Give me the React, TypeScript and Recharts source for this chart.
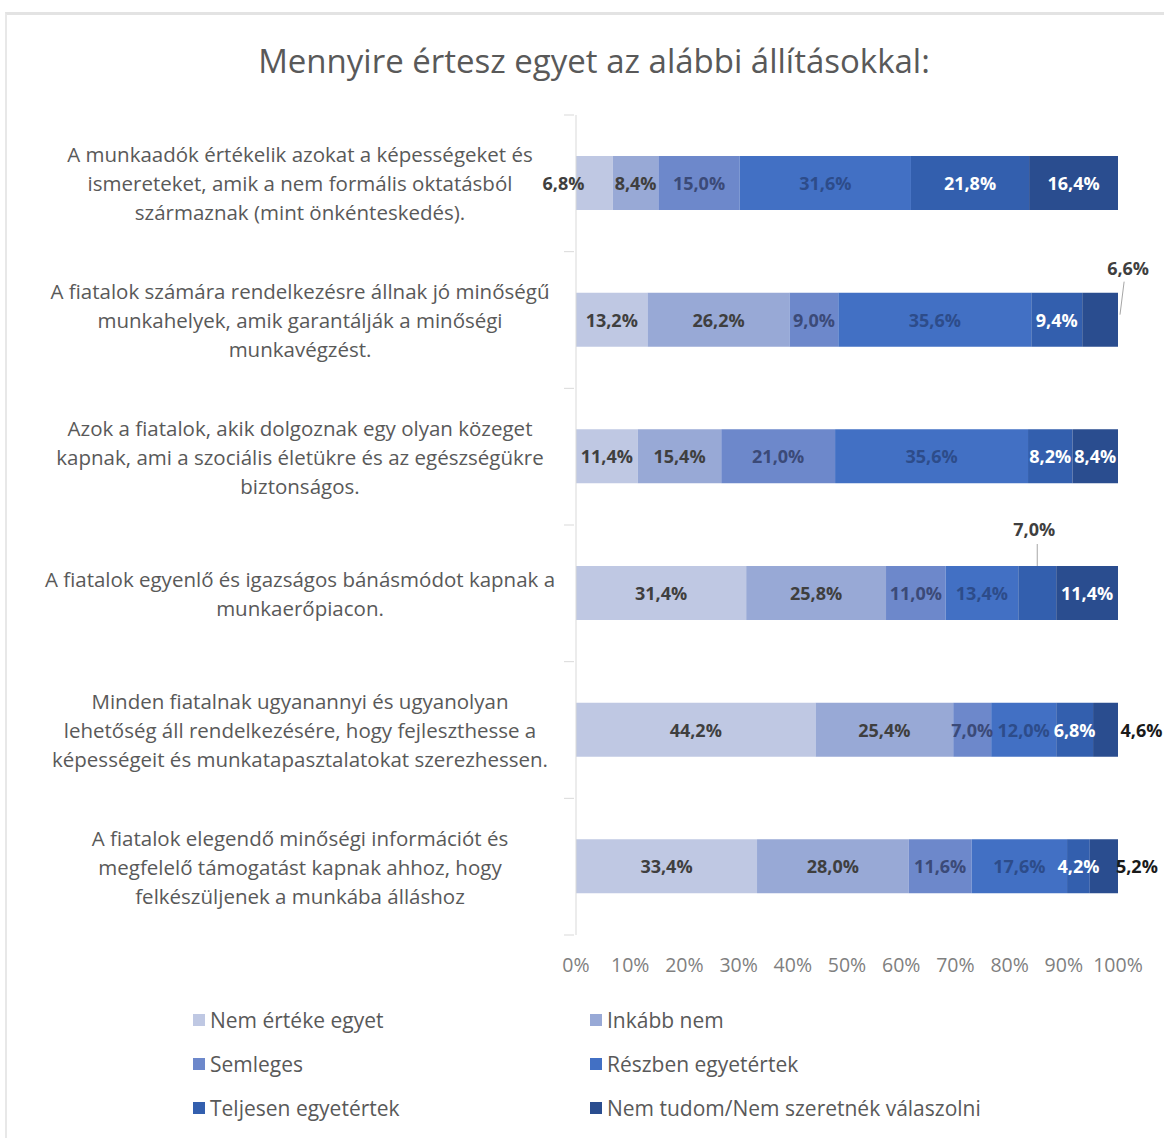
import React from 'react';
import { BarChart, Bar, XAxis, YAxis, LabelList } from 'recharts';

// categories (line breaks as in the original labels)
const categories = [
  'A munkaadók értékelik azokat a képességeket és\nismereteket, amik a nem formális oktatásból\nszármaznak (mint önkénteskedés).',
  'A fiatalok számára rendelkezésre állnak jó minőségű\nmunkahelyek, amik garantálják a minőségi\nmunkavégzést.',
  'Azok a fiatalok, akik dolgoznak egy olyan közeget\nkapnak, ami a szociális életükre és az egészségükre\nbiztonságos.',
  'A fiatalok egyenlő és igazságos bánásmódot kapnak a\nmunkaerőpiacon.',
  'Minden fiatalnak ugyanannyi és ugyanolyan\nlehetőség áll rendelkezésére, hogy fejleszthesse a\nképességeit és munkatapasztalatokat szerezhessen.',
  'A fiatalok elegendő minőségi információt és\nmegfelelő támogatást kapnak ahhoz, hogy\nfelkészüljenek a munkába álláshoz',
];

const nemErtek = [6.8, 13.2, 11.4, 31.4, 44.2, 33.4];
const inkabbNem = [8.4, 26.2, 15.4, 25.8, 25.4, 28.0];
const semleges = [15.0, 9.0, 21.0, 11.0, 7.0, 11.6];
const reszben = [31.6, 35.6, 35.6, 13.4, 12.0, 17.6];
const teljesen = [21.8, 9.4, 8.2, 7.0, 6.8, 4.2];
const nemTudom = [16.4, 6.6, 8.4, 11.4, 4.6, 5.2];

const seriesNames = [
  'Nem értéke egyet',
  'Inkább nem',
  'Semleges',
  'Részben egyetértek',
  'Teljesen egyetértek',
  'Nem tudom/Nem szeretnék válaszolni',
];
const seriesValues = [nemErtek, inkabbNem, semleges, reszben, teljesen, nemTudom];

const xTicks = [0, 10, 20, 30, 40, 50, 60, 70, 80, 90, 100];

const colors = ['#bfc8e3', '#98a9d6', '#6d88cb', '#4270c4', '#335fae', '#2a4d8f'];
const labelColors = ['#3f3f3f', '#3f3f3f', '#3b4a78', '#2d4c8a', '#ffffff', '#ffffff'];

// label placement tweaks (row, series)
const labelTweaks: any[] = [
  { row: 0, s: 0, dx: -31, dy: 0, color: '#3f3f3f' },
  { row: 1, s: 5, dx: 28, dy: -52, color: '#3f3f3f', leader: 'side' },
  { row: 3, s: 4, dx: -3, dy: -64, color: '#3f3f3f', leader: 'up' },
  { row: 4, s: 5, dx: 36, dy: 0, color: '#1a1a1a' },
  { row: 5, s: 5, dx: 33, dy: 0, color: '#1a1a1a' },
];

const data = categories.map((name, i) => {
  const row: any = { name };
  seriesValues.forEach((vals, s) => {
    row['s' + s] = vals[i];
  });
  return row;
});

const PLOT_TOP = 115;
const PLOT_BOTTOM = 935;
const FONT = '"Open Sans", sans-serif';

const fmt = (v: number) => v.toFixed(1).replace('.', ',') + '%';

const makeLabel = (s: number) => (props: any) => {
  const { x, y, width, height, value, index } = props;
  const tw = labelTweaks.find((t) => t.row === index && t.s === s);
  const cx = x + width / 2 + (tw ? tw.dx : 0);
  const cy = y + height / 2 + (tw ? tw.dy : 0);
  const fill = tw ? tw.color : labelColors[s];
  return (
    <g>
      {tw && tw.leader === 'side' && (
        <line x1={x + width + 2} y1={y + 22} x2={cx - 4} y2={cy + 14} stroke="#a6a6a6" strokeWidth={1} />
      )}
      {tw && tw.leader === 'up' && (
        <line x1={x + width / 2} y1={y} x2={x + width / 2} y2={cy + 15} stroke="#a6a6a6" strokeWidth={1} />
      )}
      <text
        x={cx}
        y={cy}
        textAnchor="middle"
        dominantBaseline="central"
        fontSize={18}
        fontWeight="bold"
        fill={fill}
        fontFamily={FONT}
      >
        {fmt(value)}
      </text>
    </g>
  );
};

const CategoryTick = (props: any) => {
  const { x, y, payload, index } = props;
  const lines = String(payload.value).split('\n');
  const band = (PLOT_BOTTOM - PLOT_TOP) / categories.length;
  const lh = 29;
  const start = y - ((lines.length - 1) * lh) / 2;
  const axisX = x + 6;
  return (
    <g>
      <line x1={axisX - 10} y1={y - band / 2} x2={axisX} y2={y - band / 2} stroke="#d9d9d9" />
      {index === categories.length - 1 && (
        <line x1={axisX - 10} y1={y + band / 2} x2={axisX} y2={y + band / 2} stroke="#d9d9d9" />
      )}
      <text textAnchor="middle" fontSize={20.5} fill="#595959" fontFamily={FONT}>
        {lines.map((l, i) => (
          <tspan key={i} x={300} y={start + i * lh} dominantBaseline="central">
            {l}
          </tspan>
        ))}
      </text>
    </g>
  );
};

const legendCols = [193, 590];
const legendRows = [1020, 1064, 1108];

export default function App() {
  return (
    <div
      style={{
        position: 'absolute',
        left: 0,
        top: 0,
        width: 1164,
        height: 1138,
        background: '#fff',
        fontFamily: FONT,
        overflow: 'hidden',
      }}
    >
      <div
        style={{
          position: 'absolute',
          left: 5,
          top: 12,
          right: 0,
          bottom: 0,
          borderTop: '3px solid #e3e3e3',
          borderLeft: '2px solid #e8e8e8',
        }}
      />
      <div
        style={{
          position: 'absolute',
          left: 0,
          width: 1188,
          top: 38,
          textAlign: 'center',
          fontSize: 33,
          color: '#595959',
        }}
      >
        Mennyire értesz egyet az alábbi állításokkal:
      </div>
      <div style={{ position: 'absolute', left: 0, top: 0 }}>
        <BarChart
          width={1164}
          height={1000}
          data={data}
          layout="vertical"
          margin={{ top: PLOT_TOP, right: 46, bottom: 1000 - PLOT_BOTTOM - 40, left: 0 }}
        >
          <XAxis
            type="number"
            domain={[0, 100]}
            ticks={xTicks}
            tickFormatter={(v: number) => v + '%'}
            axisLine={false}
            tickLine={false}
            tickMargin={17}
            height={40}
            tick={{ fontSize: 19.5, fill: '#7f7f7f', fontFamily: FONT }}
          />
          <YAxis
            type="category"
            dataKey="name"
            width={576}
            axisLine={{ stroke: '#d9d9d9' }}
            tickLine={false}
            tick={<CategoryTick />}
            interval={0}
          />
          {seriesNames.map((n, s) => (
            <Bar
              key={n}
              dataKey={'s' + s}
              name={n}
              stackId="a"
              fill={colors[s]}
              barSize={54}
              isAnimationActive={false}
            >
              <LabelList dataKey={'s' + s} content={makeLabel(s)} />
            </Bar>
          ))}
        </BarChart>
      </div>
      {seriesNames.map((n, s) => (
        <div
          key={n}
          style={{
            position: 'absolute',
            left: legendCols[s % 2],
            top: legendRows[Math.floor(s / 2)] - 14,
            height: 28,
            display: 'flex',
            alignItems: 'center',
            fontSize: 21,
            color: '#595959',
            whiteSpace: 'nowrap',
          }}
        >
          <span style={{ width: 12, height: 12, background: colors[s], marginRight: 5, display: 'inline-block' }} />
          {n}
        </div>
      ))}
    </div>
  );
}
